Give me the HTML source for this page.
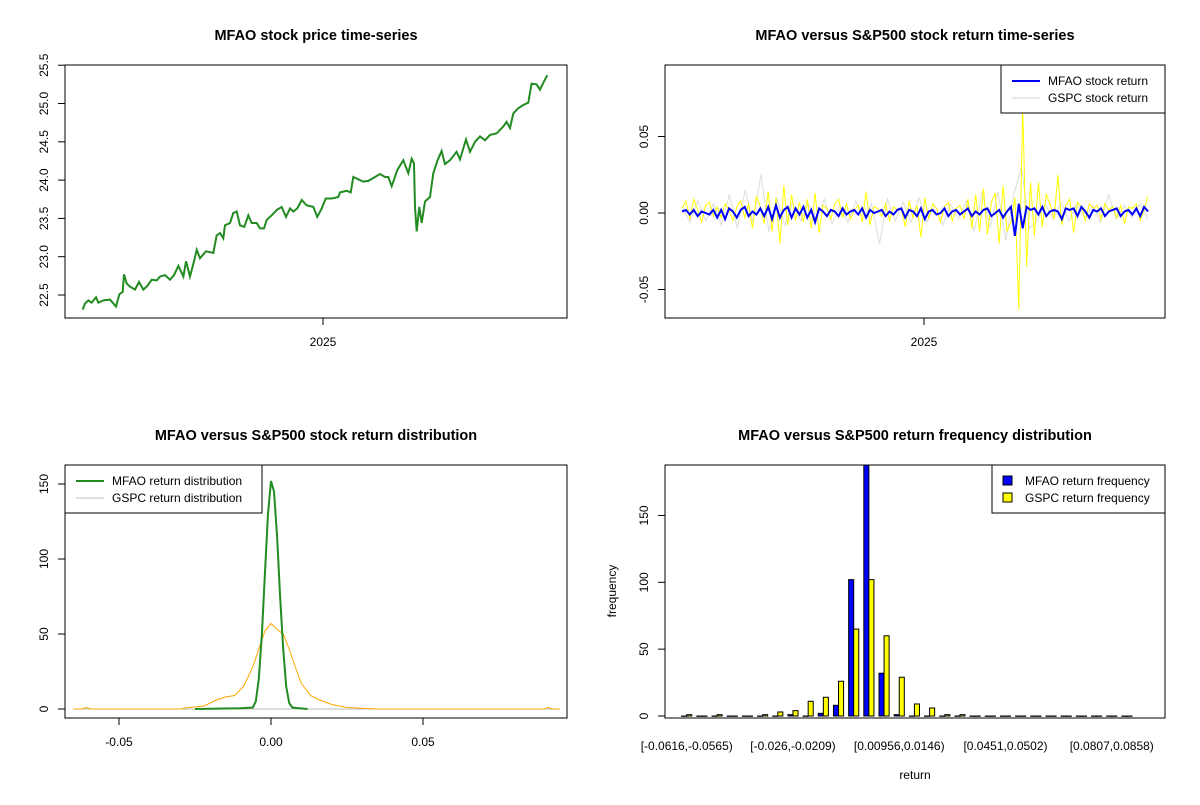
<!DOCTYPE html>
<html><head><meta charset="utf-8"><style>
body{margin:0;background:#fff}
svg{font-family:"Liberation Sans",Arial,sans-serif}
</style></head><body>
<svg id="c" width="1200" height="800" xmlns="http://www.w3.org/2000/svg">
<rect width="1200" height="800" fill="#fff"/>
<g id="g"></g>
</svg>
<script>
const priceDays=[0,7,17,27,40,47,62,82,90,100,110,120,124,132,142,157,169,182,194,207,222,232,247,262,274,287,302,310,322,335,342,352,370,392,402,412,422,427,442,452,462,472,485,497,507,522,532,544,552,567,582,597,610,622,632,644,657,672,692,704,717,729,747,767,772,792,804,812,827,842,857,877,892,907,917,927,944,962,977,987,994,997,1002,1010,1017,1027,1042,1052,1065,1077,1087,1102,1122,1132,1150,1162,1177,1192,1207,1222,1242,1262,1272,1282,1292,1307,1322,1337,1347,1362,1372,1382,1394];
const priceVals=[22.31,22.39,22.43,22.40,22.47,22.40,22.43,22.44,22.40,22.35,22.51,22.54,22.77,22.65,22.61,22.57,22.67,22.57,22.62,22.70,22.69,22.74,22.76,22.70,22.76,22.88,22.74,22.94,22.74,22.96,23.09,22.98,23.07,23.05,23.28,23.31,23.24,23.41,23.44,23.57,23.59,23.41,23.39,23.54,23.44,23.44,23.37,23.37,23.48,23.54,23.61,23.65,23.52,23.63,23.59,23.63,23.74,23.67,23.65,23.52,23.63,23.76,23.76,23.78,23.84,23.86,23.84,24.04,24.01,23.98,23.99,24.04,24.08,24.04,24.04,23.92,24.13,24.26,24.09,24.28,24.22,23.65,23.33,23.65,23.44,23.72,23.78,24.09,24.26,24.38,24.21,24.26,24.37,24.27,24.53,24.37,24.50,24.57,24.52,24.59,24.61,24.70,24.76,24.68,24.87,24.94,24.98,25.01,25.26,25.25,25.18,25.27,25.37];
const priceTicks=[22.5,23.0,23.5,24.0,24.5,25.0,25.5];
const yearTickDay=[721];const yearTickLabel=["2025"];
const gspcRet=[0.003,0.008,-0.004,0.009,0.002,-0.006,0.005,0.007,-0.002,0.004,-0.003,0.006,0.002,-0.005,0.004,0.008,-0.003,0.006,-0.010,0.011,0.004,-0.007,0.014,-0.012,0.010,-0.020,0.018,-0.008,0.012,-0.005,0.007,-0.006,0.009,-0.010,0.013,-0.013,0.005,0.003,-0.004,0.006,0.009,-0.003,0.006,-0.004,0.002,0.005,-0.006,0.014,-0.008,0.004,0.003,-0.002,0.006,-0.005,0.004,0.002,0.003,-0.009,0.008,-0.003,0.005,-0.016,0.010,-0.004,0.006,0.003,-0.006,0.004,0.007,-0.005,0.003,0.005,-0.004,0.009,-0.010,0.012,-0.012,0.016,-0.014,0.007,0.013,-0.020,0.018,-0.012,-0.006,0.010,-0.063,0.070,-0.035,0.020,-0.015,0.020,-0.009,0.012,0.006,-0.004,0.025,-0.008,0.005,0.009,-0.013,0.007,0.004,-0.005,0.006,0.003,0.005,-0.004,0.006,0.002,0.004,-0.003,0.005,-0.007,0.004,0.003,0.006,-0.005,0.002,0.011];
const mfaoRet=[0.001,0.002,-0.001,0.002,-0.002,0.001,0.000,-0.001,0.002,-0.003,0.002,-0.004,0.003,0.001,-0.003,0.002,0.004,-0.002,0.001,-0.001,0.003,-0.002,0.004,-0.004,0.005,-0.003,0.002,0.004,-0.003,0.003,-0.001,0.004,-0.003,0.002,-0.006,0.003,0.001,-0.002,0.002,0.001,-0.002,0.003,-0.001,0.001,0.002,-0.001,0.003,-0.003,0.002,0.000,0.001,0.002,-0.002,0.001,-0.001,0.002,0.003,-0.003,0.002,0.001,-0.002,0.003,-0.004,0.001,0.002,-0.001,0.000,0.003,-0.002,0.001,0.002,-0.001,0.001,0.003,-0.002,0.001,-0.001,0.002,0.003,-0.002,0.000,0.002,-0.003,0.001,0.004,-0.015,0.006,-0.010,0.004,0.002,0.003,-0.001,0.004,-0.002,0.001,0.002,0.001,-0.004,0.003,0.002,0.003,-0.002,0.004,0.001,-0.003,0.002,0.001,0.003,-0.002,0.001,0.002,0.003,-0.002,0.001,0.002,-0.001,0.003,-0.002,0.004,0.001];
const grayRet=[0.004,-0.006,0.008,-0.005,0.006,-0.008,0.012,-0.010,0.015,-0.006,0.025,-0.012,0.010,-0.008,0.007,-0.005,0.006,-0.004,0.009,-0.007,0.005,-0.006,0.008,-0.004,0.006,-0.020,0.009,-0.005,0.007,-0.006,0.010,-0.006,0.005,-0.008,0.006,-0.004,0.008,-0.012,0.014,-0.010,0.014,-0.018,0.012,0.030,-0.010,-0.005,0.006,-0.004,0.007,-0.005,0.006,-0.003,0.005,-0.006,0.012,-0.004,0.005,-0.003,0.006,-0.004];
const retTicks=[-0.05,0.00,0.05];
const densGreenX=[-0.025,-0.01,-0.006,-0.005,-0.004,-0.003,-0.002,-0.001,0,0.001,0.002,0.003,0.004,0.005,0.006,0.007,0.012];
const densGreenY=[0,0.5,1,5,20,50,90,130,152,145,115,75,40,15,4,1,0];
const densOrangeX=[-0.065,-0.062,-0.061,-0.059,-0.045,-0.03,-0.027,-0.022,-0.018,-0.015,-0.012,-0.009,-0.006,-0.004,-0.002,0,0.002,0.004,0.006,0.008,0.010,0.013,0.016,0.020,0.025,0.030,0.035,0.090,0.091,0.093,0.095];
const densOrangeY=[0,0,1,0,0,0,1,2,6,8,9,15,28,40,52,57,53,50,40,28,17,9,6,3,1,0.5,0,0,1,0,0];
const densXTicks=[-0.05,0.00,0.05];
const densYTicks=[0,50,100,150];
const mfaoFreq=[0,0,0,0,0,0,0,1,0,2,8,102,190,32,1,0,0,0,0,0,0,0,0,0,0,0,0,0,0,0];
const gspcFreq=[1,0,1,0,0,1,3,4,11,14,26,65,102,60,29,9,6,1,1,0,0,0,0,0,0,0,0,0,0,0];
const binLabels=["[-0.0616,-0.0565)","[-0.026,-0.0209)","[0.00956,0.0146)","[0.0451,0.0502)","[0.0807,0.0858)"];
const binLabelIdx=[0,7,14,21,28];
const freqTicks=[0,50,100,150];

const G=document.getElementById('g');const NS="http://www.w3.org/2000/svg";
function mk(t,a,txt){const e=document.createElementNS(NS,t);for(const k in a)e.setAttribute(k,a[k]);if(txt!==undefined)e.textContent=txt;G.appendChild(e);return e;}
function nm(e,n,i){return e;}
function box(x0,y0,x1,y1,n){const e=mk('rect',{x:x0,y:y0,width:x1-x0,height:y1-y0,fill:'none',stroke:'#000','stroke-width':1});
}
function title(x,y,s,n){const e=mk('text',{x:x,y:y,'text-anchor':'middle','font-size':14.5,'font-weight':'bold'},s);
}
function yTick(xa,y,lab,n){const l=mk('line',{x1:xa,x2:xa-7,y1:y,y2:y,stroke:'#000'});

const t=mk('text',{x:xa-17,y:y,'font-size':12,'text-anchor':'middle',transform:`rotate(-90 ${xa-17} ${y})`},lab);
}
function xTick(x,ya,lab,n){const l=mk('line',{x1:x,x2:x,y1:ya,y2:ya+7,stroke:'#000'});

const t=mk('text',{x:x,y:ya+28,'font-size':12,'text-anchor':'middle'},lab);
}
function poly(pts,col,w,n){const e=mk('polyline',{points:pts.map(p=>p[0].toFixed(1)+','+p[1].toFixed(1)).join(' '),fill:'none',stroke:col,'stroke-width':w,'stroke-linejoin':'miter'});
}

// Panel 1
const dMax=priceDays[priceDays.length-1];
const px1=d=>82.7+d/dMax*(547.3-82.7), py1=v=>295-(v-22.5)*76.6;
title(316,40,'MFAO stock price time-series','price-title');
poly(priceDays.map((d,i)=>[px1(d),py1(priceVals[i])]),'#228b22',2,'price-line');
box(65,65,567,318,'price-plot-frame');
priceTicks.forEach(v=>yTick(65,py1(v),v.toFixed(1),'price-y'));
yearTickDay.forEach((d,i)=>xTick(px1(d),318,yearTickLabel[i],'price-x'));

// Panel 2
const px2=i=>682+i/(gspcRet.length-1)*(1148-682), py2=v=>213-v*1530;
const pg2=i=>682+i/(grayRet.length-1)*(1148-682);
title(915,40,'MFAO versus S&P500 stock return time-series','return-title');
poly(grayRet.map((v,i)=>[pg2(i),py2(v)]),'#dcdcdc',1,'gspc-gray-return-line');
poly(gspcRet.map((v,i)=>[px2(i),py2(v)]),'#ffff00',1,'gspc-return-line');
poly(mfaoRet.map((v,i)=>[px2(i),py2(v)]),'#0000ff',2,'mfao-return-line');
box(665,65,1165,318,'return-plot-frame');
retTicks.forEach(v=>yTick(665,py2(v),v.toFixed(2),'return-y'));
xTick(924,318,'2025','return-x');
{const b=mk('rect',{x:1001,y:65,width:164,height:48,fill:'#fff',stroke:'#000'});nm(b,'return-legend',false);
nm(mk('line',{x1:1012,x2:1040,y1:81,y2:81,stroke:'#0000ff','stroke-width':2}),'legend-mfao-swatch',false);
nm(mk('text',{x:1048,y:85,'font-size':12},'MFAO stock return'),'legend-mfao-label',false);
nm(mk('line',{x1:1012,x2:1040,y1:98,y2:98,stroke:'#d3d3d3','stroke-width':1}),'legend-gspc-swatch',false);
nm(mk('text',{x:1048,y:102,'font-size':12},'GSPC stock return'),'legend-gspc-label',false);}

// Panel 3
const px3=v=>271+v*3040, py3=d=>709-d*1.5;
title(316,440,'MFAO versus S&P500 stock return distribution','density-title');
poly([[px3(-0.065),py3(0)],[px3(0.095),py3(0)]],'#bebebe',1,'gspc-density-line');
poly(densOrangeX.map((x,i)=>[px3(x),py3(densOrangeY[i])]),'#ffa500',1,'gspc-density-orange');
poly(densGreenX.map((x,i)=>[px3(x),py3(densGreenY[i])]),'#228b22',2,'mfao-density-line');
box(65,465,567,718,'density-plot-frame');
densYTicks.forEach(v=>yTick(65,py3(v),String(v),'density-y'));
densXTicks.forEach(v=>xTick(px3(v),718,v.toFixed(2),'density-x'));
{const b=mk('rect',{x:65,y:465,width:197,height:48,fill:'#fff',stroke:'#000'});nm(b,'density-legend',false);
nm(mk('line',{x1:76,x2:104,y1:481,y2:481,stroke:'#228b22','stroke-width':2}),'legend-mfao-dist-swatch',false);
nm(mk('text',{x:112,y:485,'font-size':12},'MFAO return distribution'),'legend-mfao-dist-label',false);
nm(mk('line',{x1:76,x2:104,y1:498,y2:498,stroke:'#bebebe','stroke-width':1}),'legend-gspc-dist-swatch',false);
nm(mk('text',{x:112,y:502,'font-size':12},'GSPC return distribution'),'legend-gspc-dist-label',false);}

// Panel 4
const ux=u=>676.6+u*5.06, py4=f=>716-f*1.337;
title(915,440,'MFAO versus S&P500 return frequency distribution','freq-title');
const cp=mk('clipPath',{id:'cp4'});nm(cp,'freq-clip',false);
const cr=document.createElementNS(NS,'rect');cr.setAttribute('x',665);cr.setAttribute('y',465);cr.setAttribute('width',500);cr.setAttribute('height',253);cp.appendChild(cr);
mfaoFreq.forEach((f,g)=>{const u=1+3*g;
 const r=mk('rect',{x:ux(u),y:py4(f),width:5.06,height:Math.max(0.3,py4(0)-py4(f)),fill:'#0000ff',stroke:'#000','stroke-width':1,'clip-path':'url(#cp4)'});
 
 const r2=mk('rect',{x:ux(u+1),y:py4(gspcFreq[g]),width:5.06,height:Math.max(0.3,py4(0)-py4(gspcFreq[g])),fill:'#ffff00',stroke:'#000','stroke-width':1,'clip-path':'url(#cp4)'});
 });
box(665,465,1165,718,'freq-plot-frame');
freqTicks.forEach(v=>yTick(665,py4(v),String(v),'freq-y'));
binLabelIdx.forEach((g,i)=>{const t=mk('text',{x:ux(2+3*g),y:750,'font-size':12,'text-anchor':'middle'},binLabels[i]);
 });
nm(mk('text',{x:915,y:779,'font-size':12,'text-anchor':'middle'},'return'),'freq-x-title',false);
nm(mk('text',{x:616,y:591,'font-size':12,'text-anchor':'middle',transform:'rotate(-90 616 591)'},'frequency'),'freq-y-title',false);
{const b=mk('rect',{x:992,y:465,width:173,height:48,fill:'#fff',stroke:'#000'});nm(b,'freq-legend',false);
nm(mk('rect',{x:1003,y:476,width:9,height:9,fill:'#0000ff',stroke:'#000'}),'legend-mfao-freq-swatch',false);
nm(mk('text',{x:1025,y:485,'font-size':12},'MFAO return frequency'),'legend-mfao-freq-label',false);
nm(mk('rect',{x:1003,y:493,width:9,height:9,fill:'#ffff00',stroke:'#000'}),'legend-gspc-freq-swatch',false);
nm(mk('text',{x:1025,y:502,'font-size':12},'GSPC return frequency'),'legend-gspc-freq-label',false);}
</script>
</body></html>
